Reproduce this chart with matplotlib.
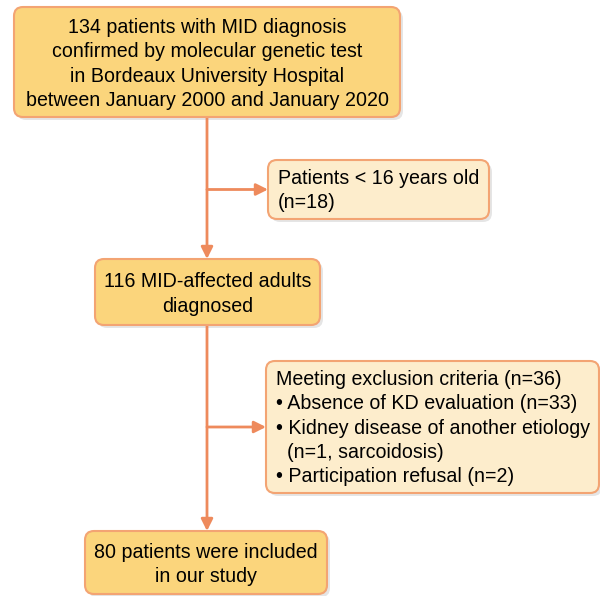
import matplotlib.pyplot as plt
from matplotlib.patches import FancyBboxPatch

plt.rcParams['font.family'] = ['Liberation Sans', 'DejaVu Sans']

# box texts
main_texts = [
    "134 patients with MID diagnosis\nconfirmed by molecular genetic test\nin Bordeaux University Hospital\nbetween January 2000 and January 2020",
    "116 MID-affected adults\ndiagnosed",
    "80 patients were included\nin our study",
]
side_texts = [
    "Patients < 16 years old\n(n=18)",
    "Meeting exclusion criteria (n=36)\n\u2022 Absence of KD evaluation (n=33)\n\u2022 Kidney disease of another etiology\n  (n=1, sarcoidosis)\n\u2022 Participation refusal (n=2)",
]

# box geometry in pixels: x0, y0, x1, y1
main_boxes = [(14, 7, 400, 117), (95, 259, 320, 325), (85, 531, 327, 594)]
side_boxes = [(268, 160, 489, 219), (266, 361, 599, 493)]

dark_fill = "#fbd57c"
light_fill = "#fdedcc"
edge = "#f3a473"
arrow_col = "#ee8a5c"

fig = plt.figure(figsize=(6, 5.96), dpi=100)
ax = fig.add_axes([0, 0, 1, 1])
ax.set_xlim(0, 600)
ax.set_ylim(596, 0)
ax.axis("off")


def draw_box(b, fill):
    x0, y0, x1, y1 = b
    pad = 9
    shadow = FancyBboxPatch((x0 + pad + 3, y0 + pad + 3), x1 - x0 - 2 * pad, y1 - y0 - 2 * pad,
                            boxstyle=f"round,pad={pad}", fc="#000000", ec="none", alpha=0.10, zorder=1)
    ax.add_patch(shadow)
    p = FancyBboxPatch((x0 + pad, y0 + pad), x1 - x0 - 2 * pad, y1 - y0 - 2 * pad,
                       boxstyle=f"round,pad={pad}", fc=fill, ec=edge, lw=1.5, zorder=2)
    ax.add_patch(p)


fs = 14.1
ls = 1.36

for b, t in zip(main_boxes, main_texts):
    draw_box(b, dark_fill)
    ax.text((b[0] + b[2]) / 2, (b[1] + b[3]) / 2 + 2, t, ha="center", va="center",
            fontsize=fs, linespacing=ls, zorder=3, color="#000000")

for b, t in zip(side_boxes, side_texts):
    draw_box(b, light_fill)
    ax.text(b[0] + 10, (b[1] + b[3]) / 2 + 1, t, ha="left", va="center",
            fontsize=fs, linespacing=ls, zorder=3, color="#000000")

# connectors
cx = 207
arrow_kw = dict(arrowstyle="-|>,head_length=0.7,head_width=0.35", color=arrow_col, lw=2,
                shrinkA=0, shrinkB=0)
ax.annotate("", xy=(cx, main_boxes[1][1]), xytext=(cx, main_boxes[0][3]),
            arrowprops=arrow_kw, zorder=1)
ax.annotate("", xy=(cx, main_boxes[2][1]), xytext=(cx, main_boxes[1][3]),
            arrowprops=arrow_kw, zorder=1)
for b in side_boxes:
    ym = (b[1] + b[3]) / 2
    ax.annotate("", xy=(b[0], ym), xytext=(cx, ym), arrowprops=arrow_kw, zorder=1)

fig.savefig("out.png", dpi=100)
